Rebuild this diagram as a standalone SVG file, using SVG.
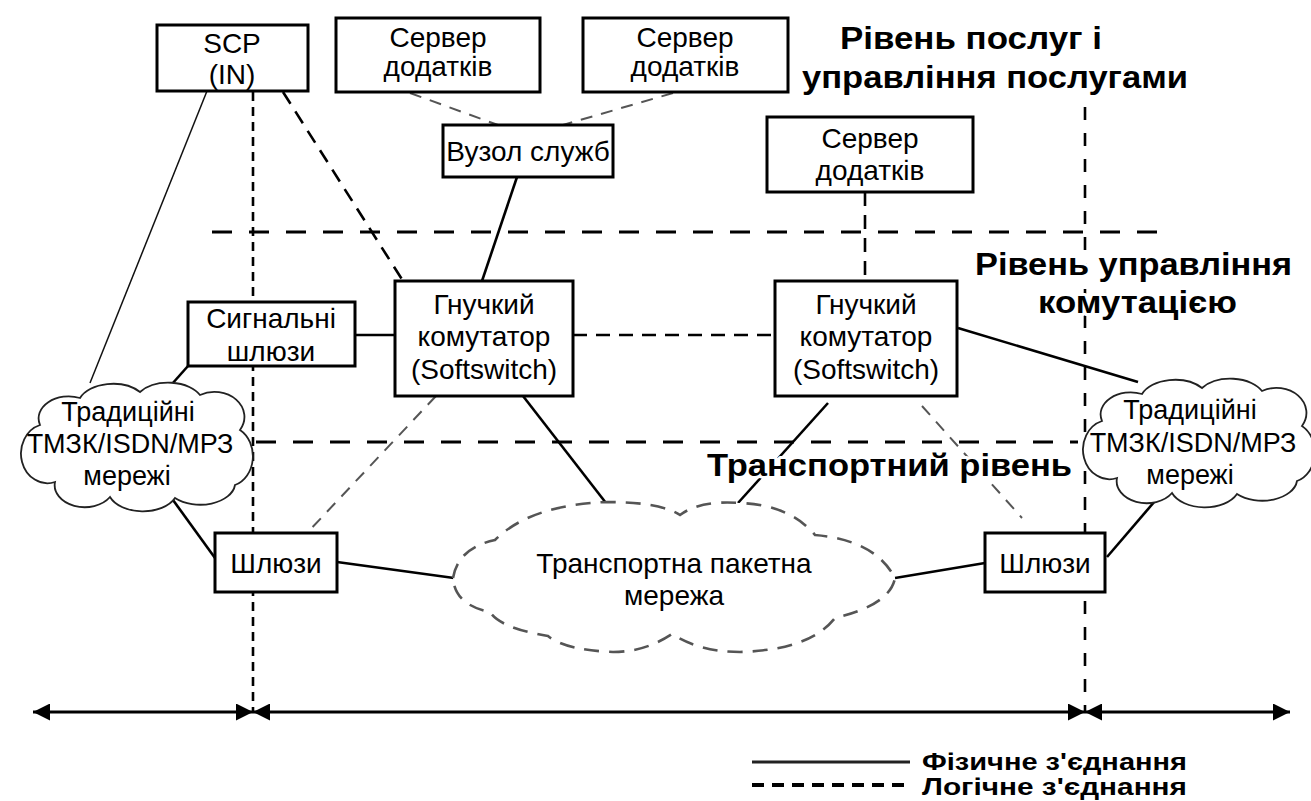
<svg xmlns="http://www.w3.org/2000/svg" width="1311" height="801" viewBox="0 0 1311 801">
  <style>
    text { font-family: "Liberation Sans", Arial, sans-serif; fill: #000; }
    .lbl { font-size: 28px; text-anchor: middle; }
    .lbl-c { font-size: 27px; text-anchor: middle; }
    .title { font-size: 31px; font-weight: bold; stroke: #fff; stroke-width: 6px; paint-order: stroke; stroke-linejoin: round; }
    .legend { font-size: 23px; font-weight: bold; }
    .box { fill: #fff; stroke: #000; stroke-width: 3; }
    .cloud { fill: #fff; stroke: #222; stroke-width: 1.8; }
    .tcloud { fill: #fff; stroke: #555; stroke-width: 2.6; stroke-dasharray: 15 10; }
    .phys { stroke: #000; stroke-width: 2.6; fill: none; }
    .thin { stroke: #111; stroke-width: 1.5; fill: none; }
    .logic { stroke: #000; stroke-width: 2.6; fill: none; stroke-dasharray: 14 9; }
    .logic-grey { stroke: #555; stroke-width: 2; fill: none; stroke-dasharray: 12 9; }
    .layer { stroke: #000; stroke-width: 3; fill: none; stroke-dasharray: 20 17; }
    .vline { stroke: #000; stroke-width: 2.6; fill: none; stroke-dasharray: 9 6; }
    .vline-r { stroke: #000; stroke-width: 2.6; fill: none; stroke-dasharray: 13 13; }
    .axis { stroke: #000; stroke-width: 3; fill: none; marker-start: url(#arr); marker-end: url(#arr); }
  </style>
  <defs>
    <marker id="arr" viewBox="0 0 10 10" refX="10" refY="5" markerUnits="userSpaceOnUse" markerWidth="18" markerHeight="17" orient="auto-start-reverse">
      <path d="M0,0 L10,5 L0,10 z" fill="#000"/>
    </marker>
  </defs>

  <rect width="1311" height="801" fill="#fff"/>

  <!-- layer boundaries and extents -->
  <g id="layers">
    <line class="layer" x1="212" y1="232" x2="1172" y2="232"/>
    <line class="layer" x1="256" y1="442" x2="1078" y2="442"/>
    <line class="vline" x1="253" y1="92" x2="253" y2="712"/>
    <line class="vline-r" x1="1085" y1="107" x2="1085" y2="712"/>
    <line class="axis" x1="33" y1="712" x2="253" y2="712"/>
    <line class="axis" x1="253" y1="712" x2="1085" y2="712"/>
    <line class="axis" x1="1085" y1="712" x2="1290" y2="712"/>
  </g>

  <!-- connectors -->
  <g id="connectors">
    <line class="logic-grey" x1="410" y1="93" x2="498" y2="125"/>
    <line class="logic-grey" x1="673" y1="93" x2="563" y2="125"/>
    <line class="phys" x1="517" y1="177" x2="482" y2="281"/>
    <line class="logic" x1="283" y1="92" x2="403" y2="281"/>
    <line class="thin" x1="207" y1="91" x2="90" y2="383"/>
    <line class="logic" x1="865" y1="192" x2="865" y2="281"/>
    <line class="phys" x1="355" y1="335" x2="395" y2="335"/>
    <line class="logic" x1="573" y1="335" x2="775" y2="335"/>
    <line class="phys" x1="188" y1="366" x2="172" y2="384"/>
    <line class="phys" x1="173" y1="500" x2="215" y2="558"/>
    <line class="logic-grey" x1="436" y1="396" x2="307" y2="533"/>
    <line class="phys" x1="523" y1="396" x2="606" y2="503"/>
    <line class="phys" x1="337" y1="562" x2="454" y2="578"/>
    <line class="phys" x1="828" y1="403" x2="738" y2="503"/>
    <line class="logic-grey" x1="922" y1="406" x2="1022" y2="518"/>
    <line class="phys" x1="958" y1="328" x2="1138" y2="382"/>
    <line class="phys" x1="1155" y1="501" x2="1107" y2="557"/>
    <line class="phys" x1="985" y1="563" x2="895" y2="578"/>
  </g>

  <!-- nodes -->
  <g id="scp">
    <rect class="box" x="157" y="25" width="151" height="66"/>
    <text class="lbl" x="232" y="53">SCP</text>
    <text class="lbl" x="232" y="84">(IN)</text>
  </g>
  <g id="app-server-1">
    <rect class="box" x="336" y="18" width="204" height="74"/>
    <text class="lbl" x="438" y="47">Сервер</text>
    <text class="lbl" x="438" y="76">додатків</text>
  </g>
  <g id="app-server-2">
    <rect class="box" x="583" y="18" width="205" height="74"/>
    <text class="lbl" x="685" y="47">Сервер</text>
    <text class="lbl" x="685" y="76">додатків</text>
  </g>
  <g id="service-node">
    <rect class="box" x="443" y="125" width="170" height="52"/>
    <text class="lbl" x="528" y="161">Вузол служб</text>
  </g>
  <g id="app-server-3">
    <rect class="box" x="767" y="117" width="206" height="75"/>
    <text class="lbl" x="870" y="148">Сервер</text>
    <text class="lbl" x="870" y="180">додатків</text>
  </g>
  <g id="signal-gateways">
    <rect class="box" x="188" y="302" width="167" height="64"/>
    <text class="lbl" x="271" y="328">Сигнальні</text>
    <text class="lbl" x="271" y="361">шлюзи</text>
  </g>
  <g id="softswitch-1">
    <rect class="box" x="395" y="281" width="178" height="115"/>
    <text class="lbl" x="484" y="314">Гнучкий</text>
    <text class="lbl" x="484" y="346">комутатор</text>
    <text class="lbl" x="484" y="379">(Softswitch)</text>
  </g>
  <g id="softswitch-2">
    <rect class="box" x="775" y="281" width="182" height="115"/>
    <text class="lbl" x="866" y="314">Гнучкий</text>
    <text class="lbl" x="866" y="346">комутатор</text>
    <text class="lbl" x="866" y="379">(Softswitch)</text>
  </g>
  <g id="legacy-net-left">
    <path class="cloud" d="M 40 425 A 30 22 0 0 1 80 398 A 35 22 0 0 1 140 392 A 35 22 0 0 1 200 395 A 30 25 0 0 1 240 430 A 25 30 0 0 1 235 485 A 35 22 0 0 1 175 498 A 35 22 0 0 1 110 497 A 30 22 0 0 1 55 482 A 25 28 0 0 1 40 425 Z"/>
    <text class="lbl-c" x="128" y="421">Традиційні</text>
    <text class="lbl-c" x="130" y="453">ТМЗК/ISDN/МРЗ</text>
    <text class="lbl-c" x="127" y="485">мережі</text>
  </g>
  <g id="legacy-net-right">
    <path class="cloud" transform="translate(1062,-4)" d="M 40 425 A 30 22 0 0 1 80 398 A 35 22 0 0 1 140 392 A 35 22 0 0 1 200 395 A 30 25 0 0 1 240 430 A 25 30 0 0 1 235 485 A 35 22 0 0 1 175 498 A 35 22 0 0 1 110 497 A 30 22 0 0 1 55 482 A 25 28 0 0 1 40 425 Z"/>
    <text class="lbl-c" x="1190" y="419">Традиційні</text>
    <text class="lbl-c" x="1193" y="452">ТМЗК/ISDN/МРЗ</text>
    <text class="lbl-c" x="1190" y="484">мережі</text>
  </g>
  <g id="gateways-left">
    <rect class="box" x="215" y="533" width="122" height="59"/>
    <text class="lbl" x="276" y="573">Шлюзи</text>
  </g>
  <g id="gateways-right">
    <rect class="box" x="985" y="533" width="120" height="59"/>
    <text class="lbl" x="1045" y="573">Шлюзи</text>
  </g>
  <g id="packet-network">
    <path class="tcloud" d="M 453 578 Q 458 548 495 540 Q 530 505 607 502 Q 660 502 680 515 Q 700 500 740 503 Q 790 505 815 535 Q 875 540 895 578 Q 890 605 835 618 Q 810 650 740 652 Q 700 652 672 634 Q 645 652 613 652 Q 565 650 548 636 Q 500 628 490 612 Q 455 605 453 578 Z"/>
    <text class="lbl" x="674" y="573">Транспортна пакетна</text>
    <text class="lbl" x="674" y="605">мережа</text>
  </g>

  <!-- layer titles -->
  <g id="titles">
    <text class="title" x="840" y="49" textLength="262" lengthAdjust="spacingAndGlyphs">Рівень послуг і</text>
    <text class="title" x="802" y="88" textLength="386" lengthAdjust="spacingAndGlyphs">управління послугами</text>
    <text class="title" x="975" y="275" textLength="317" lengthAdjust="spacingAndGlyphs">Рівень управління</text>
    <text class="title" x="1038" y="313" textLength="199" lengthAdjust="spacingAndGlyphs">комутацією</text>
    <text class="title" x="707" y="476" textLength="365" lengthAdjust="spacingAndGlyphs">Транспортний рівень</text>
  </g>

  <!-- legend -->
  <g id="legend">
    <line x1="752" y1="762" x2="910" y2="762" stroke="#222" stroke-width="3"/>
    <text class="legend" x="922" y="770" textLength="265" lengthAdjust="spacingAndGlyphs">Фізичне з'єднання</text>
    <line x1="752" y1="785" x2="910" y2="785" stroke="#000" stroke-width="4" stroke-dasharray="12 8"/>
    <text class="legend" x="922" y="795" textLength="265" lengthAdjust="spacingAndGlyphs">Логічне з'єднання</text>
  </g>
</svg>
